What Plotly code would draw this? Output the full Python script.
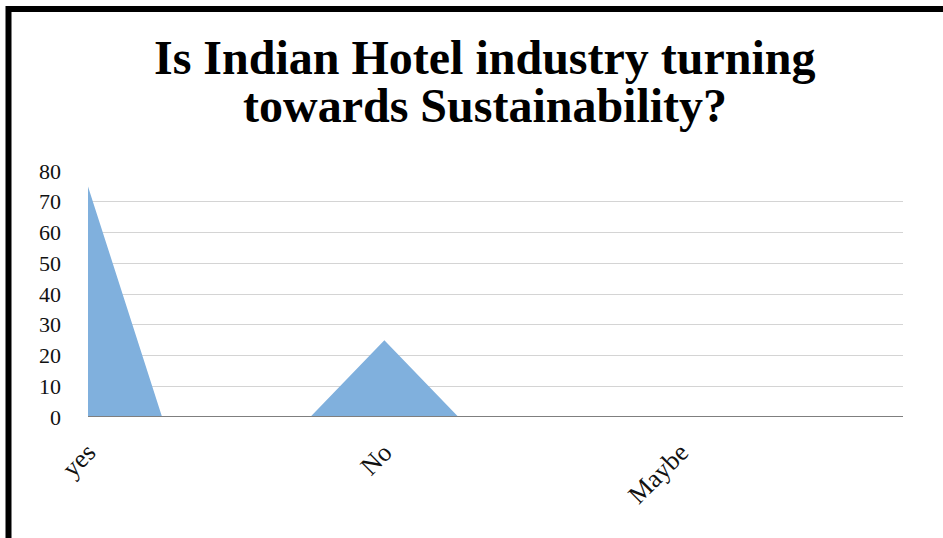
import plotly.graph_objects as go

categories = ["yes", "", "", "", "No", "", "", "", "Maybe", "", "", ""]
values = [75, 0, 0, 0, 25, 0, 0, 0, 0, 0, 0, 0]
y_ticks = [0, 10, 20, 30, 40, 50, 60, 70, 80]
title_lines = ["Is Indian Hotel industry turning", "towards Sustainability?"]

xs = list(range(len(categories)))
tick_idx = [i for i, c in enumerate(categories) if c]
tick_lbl = [categories[i] for i in tick_idx]

W, H = 943, 538
ml, mr, mt, mb = 88, 40, 171, 121
pw, ph = W - ml - mr, H - mt - mb

fig = go.Figure()
fig.add_trace(go.Scatter(
    x=xs, y=values, mode="lines", fill="tozeroy",
    line=dict(width=0, color="rgba(0,0,0,0)"),
    fillcolor="rgb(128,176,221)", hoverinfo="skip", showlegend=False,
))

serif = "Liberation Serif, Times New Roman, serif"
fig.update_layout(
    width=W, height=H,
    margin=dict(l=ml, r=mr, t=mt, b=mb),
    paper_bgcolor="white", plot_bgcolor="white",
    xaxis=dict(range=[0, len(categories) - 1], tickvals=tick_idx, ticktext=tick_lbl,
               tickangle=-45, showgrid=False, zeroline=False, showline=False,
               tickfont=dict(family=serif, size=26, color="#111"), ticks="",
               ticklabelstandoff=14),
    yaxis=dict(range=[0, 80], tickvals=y_ticks, showgrid=True, gridcolor="#d4d4d4",
               gridwidth=1, zeroline=False, showline=False, ticks="",
               tickfont=dict(family=serif, size=22, color="#111"),
               ticklabelstandoff=26),
    font=dict(family=serif),
)
# title lines
for i, (line, yc) in enumerate(zip(title_lines, [57, 105])):
    fig.add_annotation(text="<b>" + line + "</b>", xref="paper", yref="paper",
                       x=(485 - ml) / pw, y=(H - mb - yc) / ph,
                       xanchor="center", yanchor="middle", showarrow=False,
                       font=dict(family=serif, size=48, color="black"))
# axis baseline
fig.add_shape(type="line", xref="paper", yref="y", x0=0, x1=1, y0=0, y1=0,
              line=dict(color="#7f7f7f", width=2))
# outer frame
fig.add_shape(type="rect", xref="paper", yref="paper",
              x0=(8.5 - ml) / pw, x1=(W + 20 - ml) / pw,
              y0=-(H - 417 + 20) / ph, y1=(417 - 9) / ph,
              line=dict(color="black", width=6), fillcolor="rgba(0,0,0,0)", layer="above")
fig.write_html("out.html", config={"displayModeBar": False},
               post_script="document.body.style.margin='0';document.body.style.overflow='hidden';")
